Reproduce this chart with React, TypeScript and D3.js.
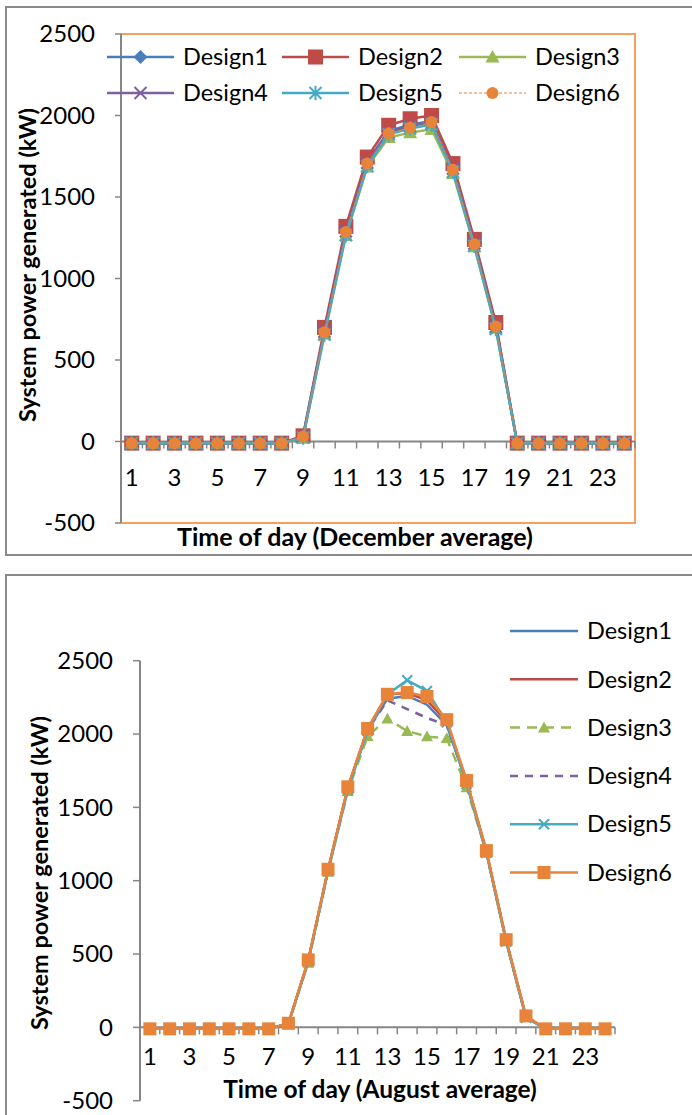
import React from "react";
import * as d3 from "d3";

const hours = [1,2,3,4,5,6,7,8,9,10,11,12,13,14,15,16,17,18,19,20,21,22,23,24];
const seriesNames = ["Design1","Design2","Design3","Design4","Design5","Design6"];
const yTicks = [-500, 0, 500, 1000, 1500, 2000, 2500];
const xTickLabels = [1,3,5,7,9,11,13,15,17,19,21,23];

// December average (top chart)
const dec1 = [-10,-10,-10,-10,-10,-10,-10,-10,30,680,1300,1720,1905,1945,1965,1680,1220,712,-10,-10,-10,-10,-10,-10];
const dec2 = [-10,-10,-10,-10,-10,-10,-10,-10,35,700,1320,1745,1940,1980,2000,1705,1240,730,-10,-10,-10,-10,-10,-10];
const dec3 = [-10,-10,-10,-10,-10,-10,-10,-10,20,660,1265,1685,1865,1895,1915,1645,1195,695,-10,-10,-10,-10,-10,-10];
const dec4 = [-10,-10,-10,-10,-10,-10,-10,-10,30,675,1290,1710,1895,1935,1955,1675,1215,705,-10,-10,-10,-10,-10,-10];
const dec5 = [-10,-10,-10,-10,-10,-10,-10,-10,25,655,1265,1690,1885,1920,1945,1655,1200,690,-10,-10,-10,-10,-10,-10];
const dec6 = [-10,-10,-10,-10,-10,-10,-10,-10,30,670,1285,1705,1890,1925,1960,1667,1210,705,-10,-10,-10,-10,-10,-10];

// August average (bottom chart)
const aug1 = [-10,-10,-10,-10,-10,-10,-10,25,455,1070,1630,2030,2240,2260,2200,2060,1670,1195,590,70,-10,-10,-10,-10];
const aug2 = [-10,-10,-10,-10,-10,-10,-10,25,455,1075,1635,2035,2270,2280,2230,2085,1680,1205,595,75,-10,-10,-10,-10];
const aug3 = [-10,-10,-10,-10,-10,-10,-10,20,440,1060,1610,1985,2105,2020,1983,1971,1635,1190,585,70,-10,-10,-10,-10];
const aug4 = [-10,-10,-10,-10,-10,-10,-10,25,450,1070,1630,2025,2230,2170,2110,2060,1670,1195,590,70,-10,-10,-10,-10];
const aug5 = [-10,-10,-10,-10,-10,-10,-10,25,450,1065,1620,2020,2270,2367,2293,2080,1660,1190,585,65,-10,-10,-10,-10];
const aug6 = [-10,-10,-10,-10,-10,-10,-10,28,460,1078,1640,2038,2271,2283,2256,2098,1683,1205,598,78,-10,-10,-10,-10];

const decData = [dec1, dec2, dec3, dec4, dec5, dec6];
const augData = [aug1, aug2, aug3, aug4, aug5, aug6];

const colors = ["#4A7EBB", "#BE4B48", "#98B954", "#7D60A0", "#46AAC5", "#E8843A"];
const FONT = "Lato, 'Open Sans', sans-serif";
const AXIS = "#868686";
const TICK_FS = 24;
const LEG_FS = 23.5;

type MarkerKind = "diamond" | "square" | "triangle" | "x" | "asterisk" | "circle" | "none";

function Marker({ kind, x, y, s, color }: { kind: MarkerKind; x: number; y: number; s: number; color: string }) {
  if (kind === "none") return null;
  if (kind === "diamond")
    return <path d={`M${x},${y - s}L${x + s},${y}L${x},${y + s}L${x - s},${y}Z`} fill={color} />;
  if (kind === "square")
    return <rect x={x - s} y={y - s} width={2 * s} height={2 * s} fill={color} />;
  if (kind === "triangle")
    return <path d={`M${x},${y - s}L${x + s},${y + s * 0.8}L${x - s},${y + s * 0.8}Z`} fill={color} />;
  if (kind === "circle") return <circle cx={x} cy={y} r={s} fill={color} />;
  if (kind === "x")
    return (
      <path d={`M${x - s},${y - s}L${x + s},${y + s}M${x - s},${y + s}L${x + s},${y - s}`} stroke={color} strokeWidth={2} fill="none" />
    );
  return (
    <path
      d={`M${x - s},${y - s}L${x + s},${y + s}M${x - s},${y + s}L${x + s},${y - s}M${x},${y - s * 1.2}L${x},${y + s * 1.2}`}
      stroke={color}
      strokeWidth={2}
      fill="none"
    />
  );
}

function TopChart() {
  const x = d3.scaleBand<number>().domain(hours).range([121, 635]).padding(0);
  const y = d3.scaleLinear().domain([-500, 2500]).range([523, 34]);
  const cx = (h: number) => (x(h) as number) + x.bandwidth() / 2;
  const markers: MarkerKind[] = ["diamond", "square", "triangle", "x", "asterisk", "circle"];
  const sizes = [7, 7.5, 7, 6, 6, 6];
  const line = d3.line<number>().x((_, i) => cx(hours[i])).y((v) => y(v));
  const legendPos = [
    { lx: 107, ly: 57 },
    { lx: 282, ly: 57 },
    { lx: 459, ly: 57 },
    { lx: 107, ly: 93 },
    { lx: 282, ly: 93 },
    { lx: 459, ly: 93 },
  ];
  const boundaries = d3.range(0, hours.length + 1).map((i) => 121 + i * x.bandwidth());
  return (
    <g>
      <rect x={6} y={7} width={720} height={548} fill="none" stroke="#8a8a8a" strokeWidth={2} />
      <path d={`M121,34L635,34L635,523L121,523`} fill="none" stroke="#F7A05E" strokeWidth={2} />
      <line x1={121} y1={34} x2={121} y2={523} stroke={AXIS} strokeWidth={2} />
      {yTicks.map((t) => (
        <g key={t}>
          <line x1={115} x2={121} y1={y(t)} y2={y(t)} stroke={AXIS} strokeWidth={1.5} />
          <text x={95} y={y(t)} dy="0.35em" textAnchor="end" fontSize={TICK_FS} fontFamily={FONT} fill="#000">
            {t}
          </text>
        </g>
      ))}
      <line x1={121} x2={635} y1={y(0)} y2={y(0)} stroke={AXIS} strokeWidth={2} />
      {boundaries.map((b, i) => (
        <line key={i} x1={b} x2={b} y1={y(0)} y2={y(0) + 7} stroke={AXIS} strokeWidth={1.5} />
      ))}
      {xTickLabels.map((h) => (
        <text key={h} x={cx(h)} y={478} dy="0.35em" textAnchor="middle" fontSize={TICK_FS} fontFamily={FONT} fill="#000">
          {h}
        </text>
      ))}
      {decData.map((d, si) => (
        <g key={si}>
          <path
            d={line(d) as string}
            fill="none"
            stroke={colors[si]}
            strokeWidth={si === 5 ? 1 : 2.5}
            strokeDasharray={si === 5 ? "3,2" : undefined}
          />
          {d.map((v, i) => (
            <Marker key={i} kind={markers[si]} x={cx(hours[i])} y={y(v)} s={sizes[si]} color={colors[si]} />
          ))}
        </g>
      ))}
      {seriesNames.map((n, si) => {
        const p = legendPos[si];
        return (
          <g key={n}>
            <line
              x1={p.lx}
              x2={p.lx + 67}
              y1={p.ly}
              y2={p.ly}
              stroke={colors[si]}
              strokeWidth={si === 5 ? 1 : 2.5}
              strokeDasharray={si === 5 ? "3,2" : undefined}
            />
            <Marker kind={markers[si]} x={p.lx + 33.5} y={p.ly} s={sizes[si]} color={colors[si]} />
            <text x={p.lx + 76} y={p.ly} dy="0.35em" fontSize={LEG_FS} fontFamily={FONT} fill="#000">
              {n}
            </text>
          </g>
        );
      })}
      <text
        transform={`translate(28,265) rotate(-90)`}
        textAnchor="middle"
        dy="0.35em"
        fontSize={23.5}
        fontWeight="bold"
        fontFamily={FONT}
      >
        System power generated (kW)
      </text>
      <text x={355} y={537} dy="0.35em" textAnchor="middle" fontSize={25} fontWeight="bold" fontFamily={FONT}>
        Time of day (December average)
      </text>
    </g>
  );
}

function BottomChart() {
  const x = d3.scaleBand<number>().domain(hours).range([140, 615]).padding(0);
  const y = d3.scaleLinear().domain([-500, 2500]).range([1100.7, 660.7]);
  const cx = (h: number) => (x(h) as number) + x.bandwidth() / 2;
  const markers: MarkerKind[] = ["none", "none", "triangle", "none", "x", "square"];
  const sizes = [0, 0, 6, 0, 5, 6.5];
  const dashes = [undefined, undefined, "10,7", "8,7", undefined, undefined];
  const line = d3.line<number>().x((_, i) => cx(hours[i])).y((v) => y(v));
  const boundaries = d3.range(0, hours.length + 1).map((i) => 140 + i * x.bandwidth());
  return (
    <g>
      <rect x={6} y={575} width={720} height={600} fill="none" stroke="#8a8a8a" strokeWidth={2} />
      <line x1={140} y1={660.7} x2={140} y2={1100.7} stroke={AXIS} strokeWidth={2} />
      {yTicks.map((t) => (
        <g key={t}>
          <line x1={133} x2={140} y1={y(t)} y2={y(t)} stroke={AXIS} strokeWidth={1.5} />
          <text x={113} y={y(t)} dy="0.35em" textAnchor="end" fontSize={TICK_FS} fontFamily={FONT} fill="#000">
            {t}
          </text>
        </g>
      ))}
      <line x1={140} x2={615} y1={y(0)} y2={y(0)} stroke={AXIS} strokeWidth={2} />
      {boundaries.map((b, i) => (
        <line key={i} x1={b} x2={b} y1={y(0)} y2={y(0) + 7} stroke={AXIS} strokeWidth={1.5} />
      ))}
      {xTickLabels.map((h) => (
        <text key={h} x={cx(h)} y={1057} dy="0.35em" textAnchor="middle" fontSize={TICK_FS} fontFamily={FONT} fill="#000">
          {h}
        </text>
      ))}
      {augData.map((d, si) => (
        <g key={si}>
          <path d={line(d) as string} fill="none" stroke={colors[si]} strokeWidth={2.5} strokeDasharray={dashes[si]} />
          {d.map((v, i) => (
            <Marker key={i} kind={markers[si]} x={cx(hours[i])} y={y(v)} s={sizes[si]} color={colors[si]} />
          ))}
        </g>
      ))}
      {seriesNames.map((n, si) => {
        const ly = 631 + si * 48.3;
        return (
          <g key={n}>
            <line x1={510} x2={578} y1={ly} y2={ly} stroke={colors[si]} strokeWidth={2.5} strokeDasharray={dashes[si]} />
            <Marker kind={markers[si]} x={544} y={ly} s={sizes[si]} color={colors[si]} />
            <text x={587} y={ly} dy="0.35em" fontSize={LEG_FS} fontFamily={FONT} fill="#000">
              {n}
            </text>
          </g>
        );
      })}
      <text
        transform={`translate(40,873) rotate(-90)`}
        textAnchor="middle"
        dy="0.35em"
        fontSize={23.5}
        fontWeight="bold"
        fontFamily={FONT}
      >
        System power generated (kW)
      </text>
      <text x={380} y={1089} dy="0.35em" textAnchor="middle" fontSize={24.5} fontWeight="bold" fontFamily={FONT}>
        Time of day (August average)
      </text>
    </g>
  );
}

export default function App() {
  return (
    <svg
      width={692}
      height={1115}
      viewBox="0 0 692 1115"
      style={{ position: "absolute", left: 0, top: 0, background: "#fff" }}
    >
      <rect x={0} y={0} width={692} height={1115} fill="#fff" />
      <TopChart />
      <BottomChart />
    </svg>
  );
}
